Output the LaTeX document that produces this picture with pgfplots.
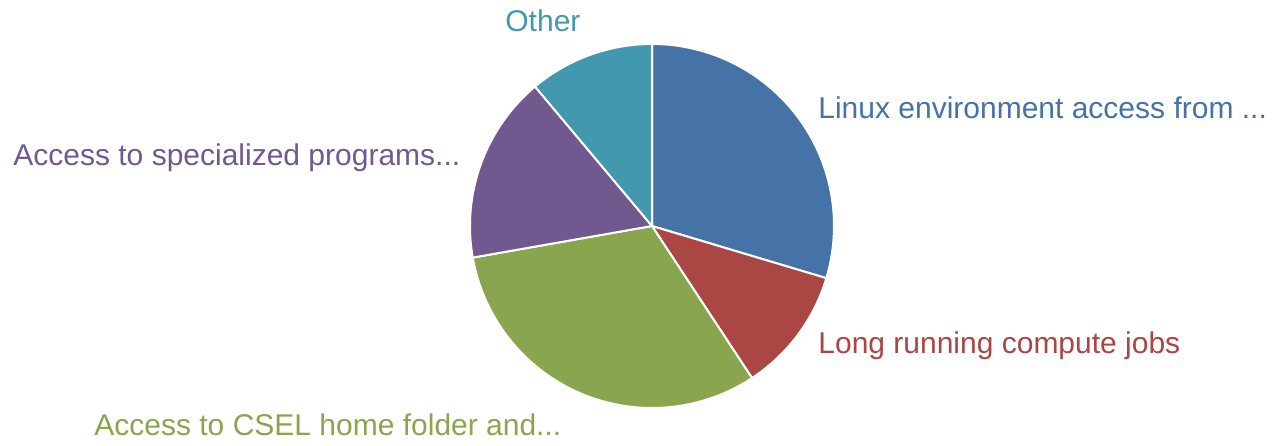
\documentclass[border=0pt]{standalone}
\usepackage{pgfplots}
\usepackage{pgfplotstable}
\pgfplotsset{compat=1.18}
\usepackage{fontspec}
\setmainfont{Liberation Sans}

\definecolor{cA}{HTML}{4572A7}
\definecolor{cB}{HTML}{AA4643}
\definecolor{cC}{HTML}{89A54E}
\definecolor{cD}{HTML}{71588F}
\definecolor{cE}{HTML}{4198AF}

% answers per category, clockwise from the top
\pgfplotstableread{
slice value
0 16
1 6
2 17
3 9
4 6
}\piedata

\tikzset{lbl/.style={anchor=base west, inner sep=0pt, font=\fontsize{15}{18}\selectfont}}

\begin{document}
\begin{tikzpicture}
\pgfplotstablegetelem{0}{value}\of\piedata \let\vA\pgfplotsretval
\pgfplotstablegetelem{1}{value}\of\piedata \let\vB\pgfplotsretval
\pgfplotstablegetelem{2}{value}\of\piedata \let\vC\pgfplotsretval
\pgfplotstablegetelem{3}{value}\of\piedata \let\vD\pgfplotsretval
\pgfplotstablegetelem{4}{value}\of\piedata \let\vE\pgfplotsretval
\pgfmathsetmacro\tot{\vA+\vB+\vC+\vD+\vE}
\pgfmathsetmacro\aA{90-360*\vA/\tot}
\pgfmathsetmacro\aB{\aA-360*\vB/\tot}
\pgfmathsetmacro\aC{\aB-360*\vC/\tot}
\pgfmathsetmacro\aD{\aC-360*\vD/\tot}
\def\rad{91pt}
\begin{axis}[
    width=642.5pt, height=222.5pt, scale only axis,
    xmin=0, xmax=1285, ymin=0, ymax=445,
    hide axis, clip=false,
]
\coordinate (ll) at (rel axis cs:0,0);
\coordinate (ur) at (rel axis cs:1,1);
\fill[cA, draw=white, line width=1pt] (axis cs:652,219) -- +(90:\rad) arc[start angle=90, end angle=\aA, radius=\rad] -- cycle;
\fill[cB, draw=white, line width=1pt] (axis cs:652,219) -- +(\aA:\rad) arc[start angle=\aA, end angle=\aB, radius=\rad] -- cycle;
\fill[cC, draw=white, line width=1pt] (axis cs:652,219) -- +(\aB:\rad) arc[start angle=\aB, end angle=\aC, radius=\rad] -- cycle;
\fill[cD, draw=white, line width=1pt] (axis cs:652,219) -- +(\aC:\rad) arc[start angle=\aC, end angle=\aD, radius=\rad] -- cycle;
\fill[cE, draw=white, line width=1pt] (axis cs:652,219) -- +(\aD:\rad) arc[start angle=\aD, end angle=-270, radius=\rad] -- cycle;

\node[lbl, text=cA] at (axis cs:818,326) {Linux environment access from ...};
\node[lbl, text=cB] at (axis cs:818,92) {Long running compute jobs};
\node[lbl, text=cC] at (axis cs:94,10) {Access to CSEL home folder and...};
\node[lbl, text=cD] at (axis cs:13,279) {Access to specialized programs...};
\node[lbl, text=cE] at (axis cs:505,413) {Other};
\end{axis}
\pgfresetboundingbox
\path (ll) (ur);
\end{tikzpicture}
\end{document}
